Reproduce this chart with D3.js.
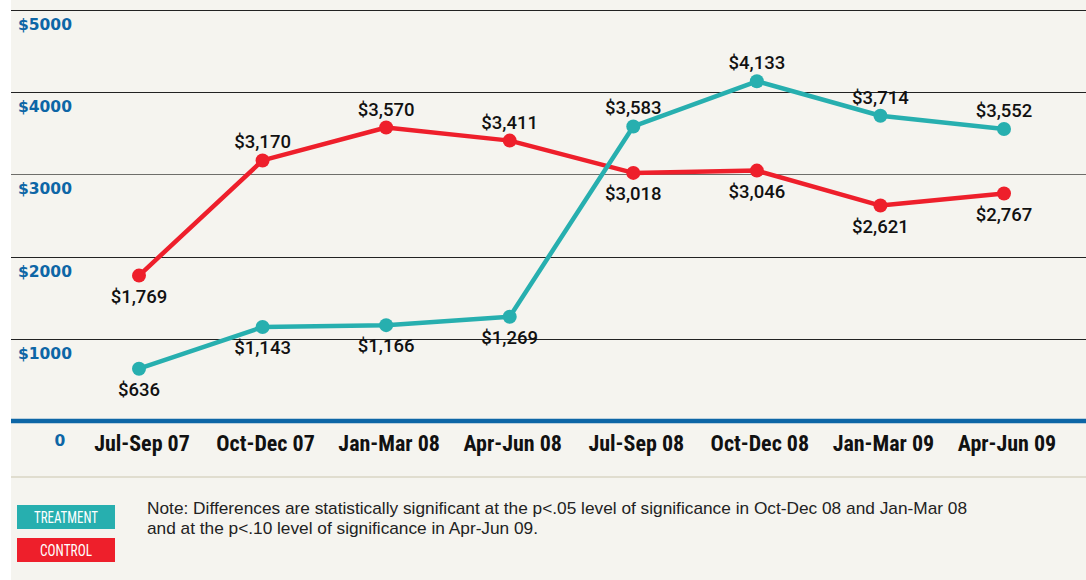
<!DOCTYPE html>
<html>
<head>
<meta charset="utf-8">
<script src="https://cdn.jsdelivr.net/npm/d3@7"></script>
<style>
  body { margin: 0; background: #fff; }
  svg { display: block; }
</style>
</head>
<body>
<svg id="chart" width="1086" height="580"></svg>
<script>
const quarters = ['Jul-Sep 07', 'Oct-Dec 07', 'Jan-Mar 08', 'Apr-Jun 08', 'Jul-Sep 08', 'Oct-Dec 08', 'Jan-Mar 09', 'Apr-Jun 09'];
const treatment = [636, 1143, 1166, 1269, 3583, 4133, 3714, 3552];
const control = [1769, 3170, 3570, 3411, 3018, 3046, 2621, 2767];
// which side of the point the value label goes: -1 above, 1 below
const treatmentSide = [1, 1, 1, 1, -1, -1, -1, -1];
const controlSide = [1, -1, -1, -1, 1, 1, 1, 1];
const yTicks = [1000, 2000, 3000, 4000, 5000];
const noteLines = [
  'Note: Differences are statistically significant at the p<.05 level of significance in Oct-Dec 08 and Jan-Mar 08',
  'and at the p<.10 level of significance in Apr-Jun 09.'
];

const width = 1086;
const height = 580;
const teal = '#27afaf';
const red = '#ee1f2b';
const blue = '#0d66a6';
const condensed = '"Liberation Sans Narrow", "Roboto Condensed", "Arial Narrow", sans-serif';

const svg = d3.select('#chart');

svg.append('rect')
  .attr('x', 11).attr('y', 0)
  .attr('width', width - 11).attr('height', height)
  .attr('fill', '#f5f4ef');

const x = d3.scalePoint()
  .domain(quarters)
  .range([139, 1004]);

const y = d3.scaleLinear()
  .domain([0, 5000])
  .range([421, 10]);

// gridlines
svg.append('g')
  .selectAll('line')
  .data(yTicks)
  .join('line')
  .attr('x1', 11)
  .attr('x2', width)
  .attr('y1', (d) => Math.round(y(d)) + 0.5)
  .attr('y2', (d) => Math.round(y(d)) + 0.5)
  .attr('stroke', (d) => (d === 3000 ? '#6e6e6a' : '#222'))
  .attr('stroke-width', 1.2);

// y labels sit below their gridline
svg.append('g')
  .selectAll('text')
  .data(yTicks)
  .join('text')
  .attr('x', 18)
  .attr('y', (d) => y(d) + 20)
  .attr('fill', blue)
  .attr('font-family', '"DejaVu Sans", sans-serif')
  .attr('font-weight', 'bold')
  .attr('font-size', 15.5)
  .text((d) => '$' + d);

// zero baseline
svg.append('line')
  .attr('x1', 11).attr('x2', width)
  .attr('y1', y(0)).attr('y2', y(0))
  .attr('stroke', blue)
  .attr('stroke-width', 4.5);

svg.append('text')
  .attr('x', 60)
  .attr('y', y(0) + 25)
  .attr('text-anchor', 'middle')
  .attr('fill', blue)
  .attr('font-family', '"DejaVu Sans", sans-serif')
  .attr('font-weight', 'bold')
  .attr('font-size', 15.5)
  .text('0');

// x axis labels
svg.append('g')
  .selectAll('text')
  .data(quarters)
  .join('text')
  .attr('x', (d) => x(d) + 3)
  .attr('y', y(0) + 30)
  .attr('text-anchor', 'middle')
  .attr('fill', '#111')
  .attr('font-family', condensed)
  .attr('font-weight', 'bold')
  .attr('font-size', 22)
  .text((d) => d);

// separator above legend
svg.append('line')
  .attr('x1', 11).attr('x2', width)
  .attr('y1', 477).attr('y2', 477)
  .attr('stroke', '#d9d6c4')
  .attr('stroke-width', 1.5);

const line = d3.line()
  .x((d, i) => x(quarters[i]))
  .y((d) => y(d));

const fmt = d3.format(',');

function drawSeries(values, sides, color) {
  const g = svg.append('g');
  g.append('path')
    .datum(values)
    .attr('d', line)
    .attr('fill', 'none')
    .attr('stroke', color)
    .attr('stroke-width', 4.5)
    .attr('stroke-linejoin', 'round');
  g.selectAll('circle')
    .data(values)
    .join('circle')
    .attr('cx', (d, i) => x(quarters[i]))
    .attr('cy', (d) => y(d))
    .attr('r', 7)
    .attr('fill', color);
  g.selectAll('text')
    .data(values)
    .join('text')
    .attr('x', (d, i) => x(quarters[i]))
    .attr('y', (d, i) => y(d) + (sides[i] < 0 ? -12 : 27))
    .attr('text-anchor', 'middle')
    .attr('fill', '#111')
    .attr('font-family', 'Roboto, sans-serif')
    .attr('font-weight', 500)
    .attr('font-size', 18.5)
    .text((d) => '$' + fmt(d));
}

drawSeries(control, controlSide, red);
drawSeries(treatment, treatmentSide, teal);

// legend
const legend = [
  { name: 'TREATMENT', color: teal, w: 64 },
  { name: 'CONTROL', color: red, w: 52 }
];
const lg = svg.append('g');
lg.selectAll('rect')
  .data(legend)
  .join('rect')
  .attr('x', 17)
  .attr('y', (d, i) => 505 + i * 33)
  .attr('width', 98)
  .attr('height', 24)
  .attr('fill', (d) => d.color);
lg.selectAll('text')
  .data(legend)
  .join('text')
  .attr('x', 66)
  .attr('y', (d, i) => 523 + i * 33)
  .attr('text-anchor', 'middle')
  .attr('fill', '#fff')
  .attr('font-family', condensed)
  .attr('font-size', 16)
  .attr('textLength', (d) => d.w)
  .attr('lengthAdjust', 'spacingAndGlyphs')
  .text((d) => d.name);

// note text, stretched to the width it has in the original
const noteWidths = [820, 391];
svg.append('g')
  .selectAll('text')
  .data(noteLines)
  .join('text')
  .attr('x', 147)
  .attr('y', (d, i) => 514 + i * 20)
  .attr('fill', '#222')
  .attr('font-family', '"Liberation Sans Narrow", "Liberation Sans", sans-serif')
  .attr('font-size', 17)
  .attr('textLength', (d, i) => noteWidths[i])
  .attr('lengthAdjust', 'spacingAndGlyphs')
  .text((d) => d);
</script>
</body>
</html>
